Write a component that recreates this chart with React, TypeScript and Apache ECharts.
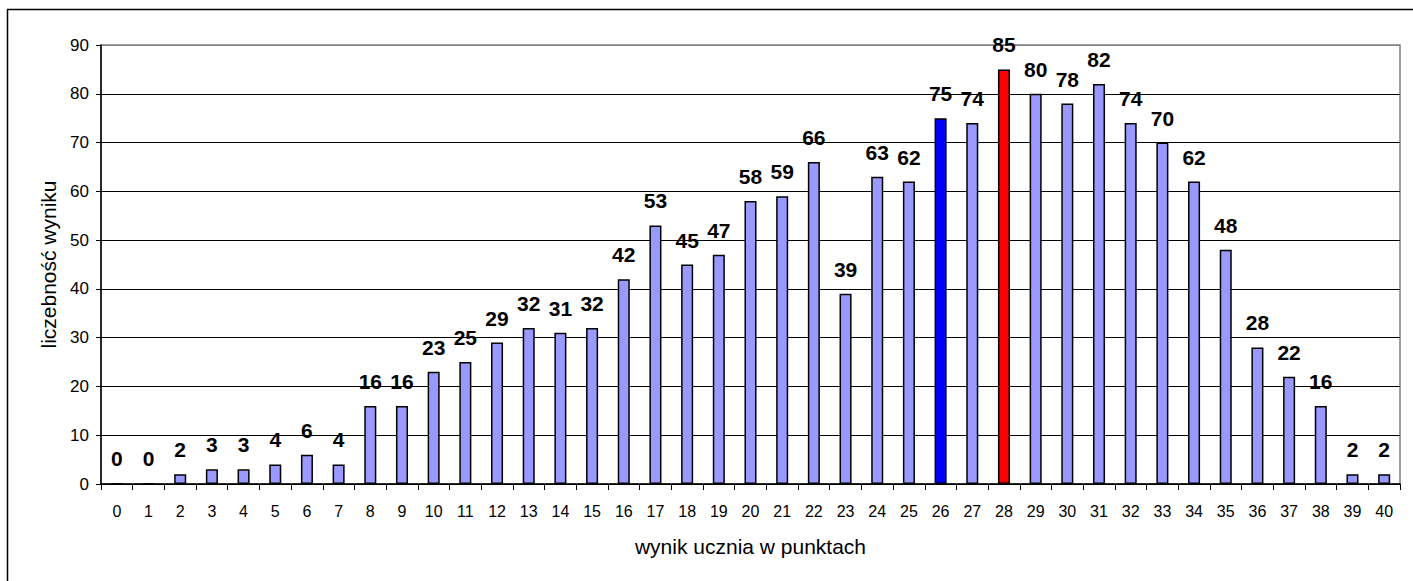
import React, { useEffect, useRef } from "react";
import * as echarts from "echarts";

const categories: string[] = Array.from({ length: 41 }, (_, i) => String(i));
const counts: number[] = [0, 0, 2, 3, 3, 4, 6, 4, 16, 16, 23, 25, 29, 32, 31, 32, 42, 53, 45, 47, 58, 59, 66, 39, 63, 62, 75, 74, 85, 80, 78, 82, 74, 70, 62, 48, 28, 22, 16, 2, 2];
const highlightBlue = 26;
const highlightRed = 28;
const yTicks = { min: 0, max: 90, interval: 10 };

export default function App() {
  const ref = useRef<HTMLDivElement>(null);
  useEffect(() => {
    if (!ref.current) return;
    const chart = echarts.init(ref.current, undefined, { renderer: "svg" });
    const font = "'Liberation Sans', Arial, sans-serif";
    const data = counts.map((v, i) => ({
      value: v,
      itemStyle: {
        color: i === highlightBlue ? "#0000FF" : i === highlightRed ? "#FF0000" : "#9999FF",
      },
    }));
    chart.setOption({
      animation: false,
      backgroundColor: "#ffffff",
      graphic: [
        {
          type: "rect",
          shape: { x: 7.5, y: 9.5, width: 1430, height: 600 },
          style: { fill: "none", stroke: "#000", lineWidth: 1.5 },
          silent: true,
        },
      ],
      grid: {
        left: 101,
        right: 13,
        top: 45,
        bottom: 97,
        show: true,
        borderColor: "#808080",
        borderWidth: 1.5,
        backgroundColor: "transparent",
      },
      xAxis: {
        type: "category",
        data: categories,
        boundaryGap: true,
        name: "wynik ucznia w punktach",
        nameLocation: "middle",
        nameGap: 52,
        nameTextStyle: { fontFamily: font, fontSize: 21, color: "#000" },
        axisLine: { lineStyle: { color: "#000", width: 1.5 } },
        axisTick: { show: true, length: 6, lineStyle: { color: "#000", width: 1 }, alignWithLabel: false },
        axisLabel: { fontFamily: font, fontSize: 16, color: "#000", margin: 19, interval: 0 },
      },
      yAxis: {
        type: "value",
        min: yTicks.min,
        max: yTicks.max,
        interval: yTicks.interval,
        name: "liczebność wyniku",
        nameLocation: "middle",
        nameGap: 41,
        nameTextStyle: { fontFamily: font, fontSize: 21, color: "#000" },
        axisLine: { show: true, lineStyle: { color: "#000", width: 1.5 } },
        axisTick: { show: true, length: 5, lineStyle: { color: "#000", width: 1 } },
        axisLabel: { fontFamily: font, fontSize: 17, color: "#000", margin: 12 },
        splitLine: {
          show: true,
          lineStyle: {
            color: ["#000", "#000", "#000", "#000", "#000", "#000", "#000", "#000", "#000", "#808080"],
            width: 1,
          },
        },
      },
      series: [
        {
          type: "bar",
          data,
          barWidth: "38%",
          itemStyle: { borderColor: "#000", borderWidth: 1.5 },
          label: {
            show: true,
            position: "top",
            distance: 14,
            fontFamily: font,
            fontSize: 21,
            fontWeight: "bold",
            color: "#000",
          },
        },
      ],
    });
    return () => chart.dispose();
  }, []);
  return (
    <div
      ref={ref}
      style={{ position: "fixed", left: 0, top: 0, width: 1413, height: 581 }}
    />
  );
}
